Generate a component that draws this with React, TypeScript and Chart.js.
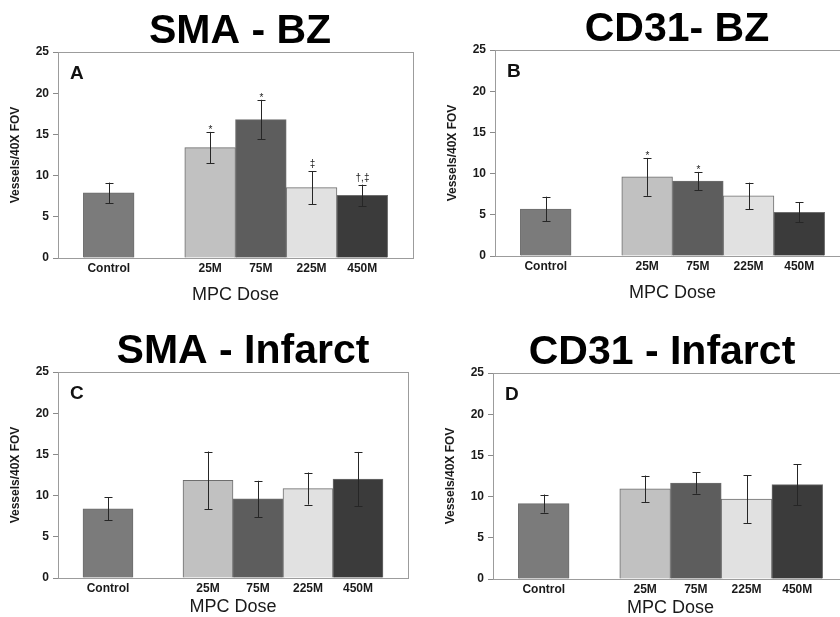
import React, { useEffect, useRef } from 'react';
import { Chart, registerables } from 'chart.js';

Chart.register(...registerables);

const FONT = '"Liberation Sans", Arial, Helvetica, sans-serif';

// categories
const doses = ['Control', '25M', '75M', '225M', '450M'];
// axis slots (a blank slot separates Control from the MPC doses)
const axisLabels = ['', 'Control', '', '25M', '75M', '225M', '450M', ''];
const doseSlots = [1, 3, 4, 5, 6];
const barColors = ['#7b7b7b', '#c1c1c1', '#5d5d5d', '#e1e1e1', '#3b3b3b'];
const yTicks = [0, 5, 10, 15, 20, 25];

// A: SMA - BZ
const smaBzMeans = [7.9, 13.4, 16.8, 8.55, 7.6];
const smaBzErrors = [1.25, 1.9, 2.4, 2.0, 1.3];
const smaBzMarks = ['', '*', '*', '\u2021', '\u2020,\u2021'];

// B: CD31 - BZ
const cd31BzMeans = [5.7, 9.6, 9.1, 7.3, 5.3];
const cd31BzErrors = [1.5, 2.3, 1.1, 1.6, 1.2];
const cd31BzMarks = ['', '*', '*', '', ''];

// C: SMA - Infarct
const smaInfMeans = [8.4, 11.85, 9.6, 10.85, 12.0];
const smaInfErrors = [1.4, 3.5, 2.2, 1.95, 3.3];
const smaInfMarks = ['', '', '', '', ''];

// D: CD31 - Infarct
const cd31InfMeans = [9.15, 10.95, 11.65, 9.7, 11.45];
const cd31InfErrors = [1.1, 1.6, 1.3, 2.9, 2.5];
const cd31InfMarks = ['', '', '', '', ''];

type Panel = {
  title: string;
  letter: string;
  means: number[];
  errors: number[];
  marks: string[];
  left: number;
  top: number;
  padRight: number;
  titleDx: number;
  xTitlePad: number;
};

const panels: Panel[] = [
  { title: 'SMA - BZ', letter: 'A', means: smaBzMeans, errors: smaBzErrors, marks: smaBzMarks, left: 0, top: 0, padRight: 7, titleDx: 182, xTitlePad: 4.2 },
  { title: 'CD31- BZ', letter: 'B', means: cd31BzMeans, errors: cd31BzErrors, marks: cd31BzMarks, left: 437, top: -2, padRight: 7, titleDx: 182, xTitlePad: 4.2 },
  { title: 'SMA - Infarct', letter: 'C', means: smaInfMeans, errors: smaInfErrors, marks: smaInfMarks, left: 0, top: 320, padRight: 12, titleDx: 185, xTitlePad: 12.2 },
  { title: 'CD31 - Infarct', letter: 'D', means: cd31InfMeans, errors: cd31InfErrors, marks: cd31InfMarks, left: 435, top: 320.5, padRight: 7, titleDx: 169, xTitlePad: 12.2 },
];

const W = 420;
const H = 310;

const decorPlugin = {
  id: 'panelDecor',
  afterDatasetsDraw(chart: any, _args: any, opts: any) {
    const p: Panel = opts.panel;
    const { ctx, chartArea: a, scales } = chart;
    const y = scales.y;
    const meta = chart.getDatasetMeta(0);
    ctx.save();
    // plot frame
    ctx.strokeStyle = '#9c9c9c';
    ctx.lineWidth = 1;
    ctx.strokeRect(Math.round(a.left) + 0.5, Math.round(a.top) + 0.5, Math.round(a.right - a.left), Math.round(a.bottom - a.top));
    // error bars
    ctx.strokeStyle = '#262626';
    p.means.forEach((m, i) => {
      const el = meta.data[doseSlots[i]];
      const cx = Math.round(el.x) + 0.5;
      const yt = y.getPixelForValue(m + p.errors[i]);
      const yb = y.getPixelForValue(m - p.errors[i]);
      ctx.beginPath();
      ctx.moveTo(cx, yt);
      ctx.lineTo(cx, yb);
      ctx.moveTo(cx - 4, Math.round(yt) + 0.5);
      ctx.lineTo(cx + 4, Math.round(yt) + 0.5);
      ctx.moveTo(cx - 4, Math.round(yb) + 0.5);
      ctx.lineTo(cx + 4, Math.round(yb) + 0.5);
      ctx.stroke();
      const mark = p.marks[i];
      if (mark) {
        ctx.fillStyle = '#222';
        ctx.font = `10px ${FONT}`;
        ctx.textAlign = 'center';
        ctx.textBaseline = 'alphabetic';
        ctx.fillText(mark, cx, mark === '*' ? yt + 1 : yt - 4);
      }
    });
    // panel letter
    ctx.fillStyle = '#111';
    ctx.font = `bold 19px ${FONT}`;
    ctx.textAlign = 'left';
    ctx.textBaseline = 'alphabetic';
    ctx.fillText(p.letter, a.left + 12, a.top + 27);
    // panel title
    ctx.fillStyle = '#000';
    ctx.font = `bold 41px ${FONT}`;
    ctx.textAlign = 'center';
    ctx.fillText(p.title, a.left + p.titleDx, a.top - 9);
    ctx.restore();
  },
};

function PanelChart({ panel }: { panel: Panel }) {
  const ref = useRef<HTMLCanvasElement>(null);
  useEffect(() => {
    const data: (number | null)[] = axisLabels.map(() => null);
    const colors: string[] = axisLabels.map(() => 'transparent');
    doses.forEach((_d, i) => {
      data[doseSlots[i]] = panel.means[i];
      colors[doseSlots[i]] = barColors[i];
    });
    const chart = new Chart(ref.current as HTMLCanvasElement, {
      type: 'bar',
      data: {
        labels: axisLabels,
        datasets: [
          {
            data,
            backgroundColor: colors,
            borderColor: '#6e6e6e',
            borderWidth: 1,
            barPercentage: 1,
            categoryPercentage: 1,
          },
        ],
      },
      options: {
        responsive: false,
        maintainAspectRatio: false,
        animation: false,
        layout: { padding: { top: 52, right: panel.padRight, left: 0, bottom: 0 } },
        plugins: {
          legend: { display: false },
          tooltip: { enabled: false },
          panelDecor: { panel },
        } as any,
        scales: {
          x: {
            type: 'category',
            offset: false,
            grid: { display: false, drawTicks: false },
            border: { display: true, color: '#9c9c9c' },
            ticks: {
              autoSkip: false,
              maxRotation: 0,
              padding: 3,
              color: '#1a1a1a',
              font: { family: FONT, size: 12, weight: 'bold' },
            },
            title: {
              display: true,
              text: 'MPC Dose',
              color: '#1a1a1a',
              font: { family: FONT, size: 18, weight: '500' },
              padding: { top: 0, bottom: panel.xTitlePad },
            },
            afterFit: (s: any) => {
              s.height = 52;
            },
          },
          y: {
            min: 0,
            max: 25,
            afterBuildTicks: (s: any) => {
              s.ticks = yTicks.map((v) => ({ value: v }));
            },
            grid: { drawOnChartArea: false, drawTicks: true, tickLength: 5, color: '#8a8a8a' },
            border: { display: true, color: '#9c9c9c' },
            ticks: {
              padding: 4,
              color: '#1a1a1a',
              font: { family: FONT, size: 12, weight: 'bold' },
            },
            title: {
              display: true,
              text: 'Vessels/40X FOV',
              color: '#1a1a1a',
              font: { family: FONT, size: 12, weight: 'bold' },
              padding: { top: 8, bottom: 0 },
            },
            afterFit: (s: any) => {
              s.width = 58;
            },
          },
        },
      } as any,
      plugins: [decorPlugin],
    });
    return () => chart.destroy();
  }, [panel]);
  return (
    <canvas
      ref={ref}
      width={W}
      height={H}
      style={{ position: 'absolute', left: panel.left, top: panel.top, width: W, height: H }}
    />
  );
}

export default function App() {
  return (
    <div
      style={{
        position: 'fixed',
        left: 0,
        top: 0,
        width: 840,
        height: 617,
        overflow: 'hidden',
        background: '#fff',
      }}
    >
      {panels.map((p) => (
        <PanelChart key={p.letter} panel={p} />
      ))}
    </div>
  );
}
